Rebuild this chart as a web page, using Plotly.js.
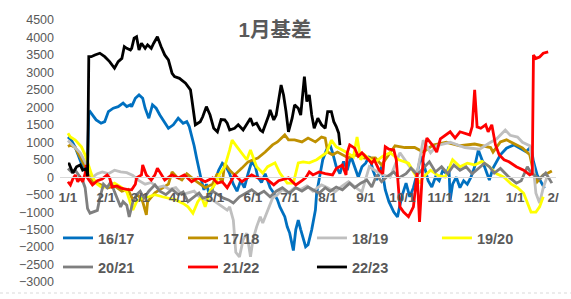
<!DOCTYPE html>
<html><head><meta charset="utf-8">
<script src="https://cdn.plot.ly/plotly-3.0.1.min.js"></script>
<style>html,body{margin:0;padding:0;background:#fff}#chart{width:571px;height:299px}</style>
</head><body><div id="chart"></div>
<script>
// x values: days counted from 1/1
const tickDays = [0,31,59,90,120,151,181,212,243,273,304,334,365,396];
const tickLabels = ['1/1','2/1','3/1','4/1','5/1','6/1','7/1','8/1','9/1','10/1','11/1','12/1','1/1','2/'];
const seriesNames = ['16/17','17/18','18/19','19/20','20/21','21/22','22/23'];
const seriesColors = ['#0070C0','#BF9000','#BFBFBF','#FFFF00','#7F7F7F','#FF0000','#000000'];

const days1617 = [0,3,6,9,12,15,16,17,18,21,23,27,30,33,37,41,45,48,51,52,55,58,61,63,66,69,72,75,79,82,86,90,94,97,99,101,103,105,107,109,111,113,116,118,120,123,126,129,132,135,138,141,144,147,150,153,155,158,161,165,168,171,173,177,179,181,184,186,188,190,192,194,196,199,202,203,206,208,211,214,216,219,222,225,228,231,234,237,240,243,246,249,252,256,259,262,266,269,271,273,276,279,282,285,288,291,294,297,300,303,306,309,311,312,314,317,320,323,326,329,332,335,338,341,344,347,353,358,364,369,374,378,380,383,387,389];
const vals1617 = [1150,1050,850,600,300,150,400,1850,1880,1735,1640,1545,1590,1880,1975,2020,2120,2020,2070,2020,2260,2355,2260,1975,1690,2070,1975,1780,1545,1400,1500,1690,1545,1590,1450,1210,900,550,200,-100,-360,-200,-560,-300,-100,200,400,300,100,-200,-400,-100,-300,100,450,300,0,-150,100,-300,-450,-650,-850,-1130,-1420,-1600,-2100,-1500,-1230,-1500,-1790,-1990,-1930,-1500,-940,-460,120,500,780,925,700,300,100,450,200,600,300,0,300,400,600,200,-80,300,-360,-700,-1000,-1140,-800,-500,-170,-560,-300,100,600,300,-100,-280,0,-100,200,100,300,-650,-200,0,-300,-100,-200,0,300,780,500,200,-80,260,640,830,925,830,730,875,450,65,-170,-315];

const days1718 = [0,2,6,10,14,16,20,26,33,38,44,49,53,57,61,64,65,71,77,82,85,89,93,97,104,112,118,122,126,128,132,136,142,147,155,161,167,171,177,180,185,191,196,202,207,210,212,216,220,224,229,234,242,251,256,261,267,275,283,290,298,309,320,332,345,347,353,358,363,371,377,380,383,388,392,395];
const vals1718 = [880,920,850,550,300,260,-130,-200,-300,-250,-400,-350,-650,-500,-700,-1080,-700,-450,-300,-200,150,0,-80,100,-100,-300,-200,100,-150,400,200,65,260,440,550,720,925,1010,1210,1070,1070,1010,1120,1010,1150,1120,720,640,720,640,550,640,550,550,350,600,900,850,850,720,920,1000,900,950,850,720,1010,1070,980,840,640,150,-130,65,120,180];

const days1819 = [0,3,6,10,13,16,20,24,28,33,38,43,48,53,58,63,68,73,78,83,88,93,98,103,107,111,118,124,130,132,135,137,140,143,146,149,151,154,157,159,162,165,167,171,175,180,185,190,195,200,207,212,218,224,229,235,240,246,255,263,271,279,285,290,296,301,312,324,336,344,350,357,361,367,371,377,380,382,385,388,391];
const vals1819 = [1050,950,850,700,500,300,0,100,150,100,200,150,130,50,-100,-200,-150,-300,-250,-350,-300,-500,-450,-400,-550,-650,-650,-800,-940,-850,-1230,-2150,-2280,-1790,-1600,-2280,-1790,-1420,-1130,-1310,-1030,-740,-600,-500,-350,-450,-300,-350,-250,-400,-220,-300,-420,-250,-130,-300,-420,300,100,0,700,300,120,1060,700,900,1000,850,800,980,1100,1350,1200,1150,1000,900,260,-460,-740,-300,0];

const days1920 = [0,2,6,11,14,17,20,24,28,33,38,44,48,51,53,56,60,66,71,77,82,88,94,98,102,106,109,112,116,120,124,128,132,134,138,146,149,154,159,163,169,173,179,184,188,192,197,203,211,215,219,228,233,236,239,242,247,251,257,263,270,278,283,287,290,296,302,308,314,320,326,332,338,344,350,356,362,367,372,378,382,385,388];
const vals1920 = [1260,1150,1060,870,640,300,0,-200,-300,-250,-170,-300,-420,-740,-940,-700,-600,-560,-500,-560,-600,-650,-750,-850,-1030,-700,-560,-850,-400,-200,100,300,780,1060,870,500,780,300,120,300,410,120,-170,-170,410,440,410,500,700,1060,870,700,580,1150,500,640,500,440,600,700,500,400,100,-170,0,200,50,0,500,300,400,350,450,300,100,0,-200,-300,-460,-1000,-1000,-850,-560];

const days2021 = [0,3,6,9,12,14,16,18,21,24,26,29,32,35,38,41,43,45,48,50,53,56,59,62,66,71,75,80,85,90,94,98,102,107,110,114,118,122,127,131,135,140,146,150,155,160,165,170,175,181,186,191,196,200,205,210,214,219,224,230,234,239,244,248,252,256,260,266,270,276,280,285,290,295,300,305,310,315,320,325,330,335,340,344,348,353,360,366,370,375,378,385,390,395];
const vals2021 = [250,150,200,65,-100,-300,-900,-1030,-1000,-950,-600,-200,-300,-130,-420,-650,-850,-700,-800,-1140,-700,-500,-400,-600,-400,-220,-400,-500,-350,-500,-420,-700,-600,-450,-600,-560,-400,-500,-600,-650,-740,-560,-450,-360,-500,-400,-560,-400,-300,-460,-300,-400,-280,-350,-460,-300,-400,-280,-360,-170,-300,-170,-80,-280,65,-130,0,150,-20,100,260,65,250,440,150,300,100,350,200,300,100,250,400,300,120,250,0,-170,-100,300,120,-50,120,-170];

const days2122 = [0,2,4,6,8,10,12,14,15,16,20,24,28,32,34,36,40,44,48,52,55,56,60,61,64,68,71,73,79,85,90,95,101,106,112,118,122,126,130,136,142,150,155,162,168,172,180,186,191,194,197,200,205,210,216,219,224,227,228,230,234,237,240,244,248,250,254,257,259,262,266,268,269,271,274,278,282,285,287,290,293,298,301,304,312,316,320,328,330,332,334,337,341,343,346,349,352,356,360,366,372,377,379,380,382,385,388,392];
const vals2122 = [-130,-220,-50,65,-130,-20,-130,100,350,-20,-220,-100,-50,65,-20,-280,-250,-320,-350,-360,-200,-20,65,350,65,-80,65,260,-80,65,-20,65,-130,-20,-130,-20,-170,-130,-300,65,-130,65,-20,-50,-220,-100,-20,-220,-100,-20,150,65,150,100,65,250,350,65,700,925,830,600,700,550,400,500,200,100,870,800,780,500,120,-850,-1000,-1130,-850,120,-1280,550,1120,900,720,1100,1300,1120,1300,1210,1450,2500,1440,1400,1500,1300,1500,925,640,500,440,300,200,65,100,3500,3400,3440,3550,3590];

const days2223 = [0,1,4,7,10,12,15,16,17,19,22,26,30,34,38,41,44,46,48,51,52,54,56,58,60,63,65,68,70,73,76,79,82,85,87,91,96,100,101,104,108,110,113,116,119,122,125,128,130,132,136,139,143,147,149,151,154,157,159,164,165,168,170,174,176,178,180,183,185,188,190,193,195,197,199,201,204,207,210,212,215,217,219,221,222];
const vals2223 = [380,380,120,300,350,200,250,30,3450,3450,3500,3550,3450,3310,3120,3310,3400,3740,3690,3640,3690,3980,4020,3640,3835,3690,3790,3690,3835,4020,3740,3500,3360,2975,2880,2830,2690,2500,2260,1500,1590,1730,2020,1780,1400,1300,1650,1640,1545,1350,1400,1500,1350,1590,1690,1500,1545,1350,1300,1780,1925,1640,1780,2640,2355,1880,1300,1690,2070,1975,1780,2880,2165,2355,1780,1400,1690,1500,1400,1880,1880,1590,1450,1260,920];

const allDays = [days1617,days1718,days1819,days1920,days2021,days2122,days2223];
const allVals = [vals1617,vals1718,vals1819,vals1920,vals2021,vals2122,vals2223];

// legend slots: 4 columns, 2 rows (paper coordinates of each legend box)
const legendCols = [-0.004, 0.248, 0.508, 0.760];
const legendRows = [0.168, 0.057];

const legendFont = {family:'Liberation Sans, Arial, sans-serif', size:14.5, color:'#595959', weight:'bold'};
const legendIds = seriesNames.map((n,i)=> i===0 ? 'legend' : 'legend'+(i+1));
const traces = seriesNames.map((n,i)=>({
  type:'scatter', mode:'lines', name:n, x:allDays[i], y:allVals[i],
  line:{color:seriesColors[i], width:2.8},
  legend: legendIds[i], hoverinfo:'skip'
}));

const layout = {
  width:571, height:299,
  margin:{l:60, r:15, t:20, b:17, pad:0},
  paper_bgcolor:'#ffffff', plot_bgcolor:'#ffffff',
  title:{text:'1月基差', font:{family:'Liberation Sans, Noto Sans CJK SC, sans-serif', size:20.5, color:'#595959', weight:'bold'},
    x:275/571, xanchor:'center', xref:'container', y:1-30/299, yanchor:'middle', yref:'container'},
  xaxis:{range:[-6.5,398.4], tickmode:'array', tickvals:tickDays, ticktext:tickLabels,
    anchor:'free', position:0.4, showline:true, linecolor:'#d9d9d9', linewidth:1,
    showgrid:false, zeroline:false, ticks:'', ticklabelstandoff:8,
    tickfont:{family:'Liberation Sans, Arial, sans-serif', size:13.5, color:'#595959', weight:'bold'}},
  yaxis:{range:[-3000,4500], tickmode:'linear', tick0:0, dtick:500, showgrid:false, zeroline:false,
    showline:false, ticks:'', ticklabelstandoff:5,
    tickfont:{family:'Liberation Sans, Arial, sans-serif', size:12.5, color:'#595959'}},
  showlegend:true,
  shapes:[{type:'line', xref:'paper', yref:'paper', x0:-0.121, x1:1.03, y0:-0.042, y1:-0.042,
    line:{color:'#d9d9d9', width:1, dash:'dot'}}]
};
legendIds.forEach((id,i)=>{
  layout[id] = {orientation:'h', x:legendCols[i%4], xanchor:'left', y:legendRows[Math.floor(i/4)], yanchor:'middle',
    font:legendFont, bgcolor:'rgba(0,0,0,0)', itemwidth:30};
});
Plotly.newPlot('chart', traces, layout, {staticPlot:true, displayModeBar:false});
</script></body></html>
